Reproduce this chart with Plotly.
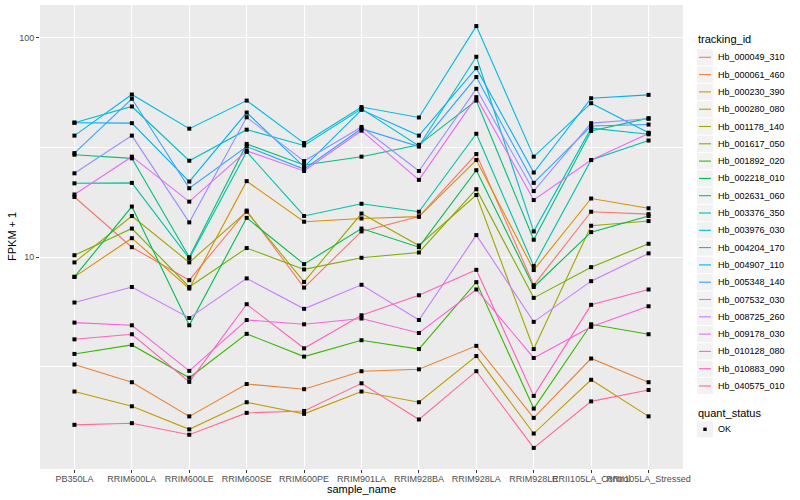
import plotly.graph_objects as go
import numpy as np

# ---------------- data (FPKM + 1) ----------------
samples = ["PB350LA", "RRIM600LA", "RRIM600LE", "RRIM600SE", "RRIM600PE",
           "RRIM901LA", "RRIM928BA", "RRIM928LA", "RRIM928LE",
           "RRII105LA_Control", "RRII105LA_Stressed"]

tracking_ids = ["Hb_000049_310", "Hb_000061_460", "Hb_000230_390", "Hb_000280_080",
                "Hb_001178_140", "Hb_001617_050", "Hb_001892_020", "Hb_002218_010",
                "Hb_002631_060", "Hb_003376_350", "Hb_003976_030", "Hb_004204_170",
                "Hb_004907_110", "Hb_005348_140", "Hb_007532_030", "Hb_008725_260",
                "Hb_009178_030", "Hb_010128_080", "Hb_010883_090", "Hb_040575_010"]

hb_000049_310 = [18.8, 11.1, 7.85, 16.3, 7.26, 13.1, 15.3, 29.5, 7.45, 16.1, 15.7]
hb_000061_460 = [3.24, 2.69, 1.88, 2.64, 2.50, 3.02, 3.08, 3.94, 1.85, 3.45, 2.69]
hb_000230_390 = [8.13, 12.2, 7.19, 22.2, 14.5, 15.0, 15.3, 27.7, 8.73, 18.5, 16.7]
hb_000280_080 = [2.44, 2.09, 1.64, 2.18, 1.93, 2.44, 2.18, 3.54, 1.57, 2.76, 1.88]
hb_001178_140 = [9.46, 15.4, 9.46, 16.1, 7.71, 15.8, 11.3, 19.2, 3.81, 13.9, 14.6]
hb_001617_050 = [10.2, 13.5, 7.31, 11.0, 8.79, 9.93, 10.5, 20.4, 6.52, 9.00, 11.5]
hb_001892_020 = [3.62, 3.98, 2.82, 4.47, 3.52, 4.18, 3.81, 7.69, 2.04, 4.94, 4.45]
hb_002218_010 = [8.13, 17.0, 4.89, 15.1, 9.29, 13.5, 11.1, 24.9, 7.31, 13.0, 15.4]
hb_002631_060 = [29.3, 28.2, 10.0, 32.8, 26.3, 28.7, 32.5, 51.7, 12.0, 37.6, 43.0]
hb_003376_350 = [21.7, 21.8, 9.86, 30.2, 15.4, 17.5, 16.1, 36.5, 9.12, 27.7, 34.0]
hb_003976_030 = [41.0, 48.6, 27.5, 38.1, 32.3, 47.4, 32.1, 81.9, 13.1, 38.7, 36.3]
hb_004204_170 = [35.8, 55.1, 38.5, 51.7, 33.1, 48.3, 43.3, 113.0, 28.7, 50.3, 36.9]
hb_004907_110 = [41.0, 40.8, 22.1, 45.6, 25.8, 46.9, 35.8, 72.7, 24.3, 53.0, 54.9]
hb_005348_140 = [29.8, 52.7, 20.6, 31.9, 25.2, 38.5, 31.9, 66.2, 21.8, 39.6, 40.2]
hb_007532_030 = [24.1, 35.8, 14.4, 43.4, 27.4, 39.2, 24.7, 58.5, 20.0, 40.8, 42.7]
hb_008725_260 = [6.21, 7.31, 5.28, 8.00, 5.81, 7.48, 5.17, 12.6, 5.07, 7.77, 10.4]
hb_009178_030 = [19.3, 28.7, 17.9, 30.5, 24.7, 37.7, 22.5, 53.6, 18.2, 27.7, 36.6]
hb_010128_080 = [5.03, 4.89, 3.03, 5.17, 4.94, 5.25, 4.51, 7.12, 3.47, 4.81, 5.97]
hb_010883_090 = [4.22, 4.45, 2.70, 6.10, 3.84, 5.43, 6.70, 8.75, 2.33, 6.06, 7.12]
hb_040575_010 = [1.72, 1.75, 1.55, 1.95, 1.99, 2.66, 1.82, 3.02, 1.35, 2.20, 2.48]

series_values = [hb_000049_310, hb_000061_460, hb_000230_390, hb_000280_080,
                 hb_001178_140, hb_001617_050, hb_001892_020, hb_002218_010,
                 hb_002631_060, hb_003376_350, hb_003976_030, hb_004204_170,
                 hb_004907_110, hb_005348_140, hb_007532_030, hb_008725_260,
                 hb_009178_030, hb_010128_080, hb_010883_090, hb_040575_010]

colors = ["#F8766D", "#EA8331", "#D89000", "#C09B00", "#A3A500", "#7CAE00",
          "#39B600", "#00BB4E", "#00BF7D", "#00C1A3", "#00BFC4", "#00BAE0",
          "#00B0F6", "#35A2FF", "#9590FF", "#C77CFF", "#E76BF3", "#FA62DB",
          "#FF62BC", "#FF6C91"]

quant_status = ["OK"]
y_ticks = [10, 100]

# ---------------- geometry helpers ----------------
W, H = 800, 500
ML, MR, MT, MB = 40, 117, 5, 31
PW, PH = W - ML - MR, H - MT - MB


def pxx(x):
    return (x - ML) / PW


def pxy(y):
    return (H - MB - y) / PH


FONT = "Liberation Sans, Arial, Helvetica, sans-serif"

fig = go.Figure()

for name, vals, col in zip(tracking_ids, series_values, colors):
    fig.add_trace(go.Scatter(x=samples, y=vals, mode="lines", name=name,
                             line=dict(color=col, width=1.1),
                             showlegend=False, hoverinfo="x+y+name"))
for name, vals in zip(tracking_ids, series_values):
    fig.add_trace(go.Scatter(x=samples, y=vals, mode="markers", name=name,
                             marker=dict(symbol="square", size=4, color="black"),
                             showlegend=False, hoverinfo="x+y+name"))

# log range with ggplot-like 5% expansion
all_logs = np.log10(np.concatenate([np.array(v) for v in series_values]))
lo, hi = all_logs.min(), all_logs.max()
pad = 0.05 * (hi - lo)
yrange = [lo - pad, hi + pad]

fig.update_layout(
    width=W, height=H,
    margin=dict(l=ML, r=MR, t=MT, b=MB, pad=0, autoexpand=False),
    plot_bgcolor="#EBEBEB", paper_bgcolor="white",
    font=dict(family=FONT, size=9, color="#4D4D4D"),
    showlegend=False,
    xaxis=dict(type="category", categoryorder="array", categoryarray=samples,
               range=[-0.6, len(samples) - 0.4],
               showgrid=True, gridcolor="white", gridwidth=1.1,
               zeroline=False, showline=False, automargin=False,
               ticks="outside", ticklen=3, tickwidth=1, tickcolor="#333333",
               ticklabelstandoff=-2,
               tickfont=dict(family=FONT, size=9, color="#4D4D4D"),
               tickangle=0, fixedrange=True),
    yaxis=dict(type="log", range=yrange, automargin=False,
               tickmode="array", tickvals=y_ticks, ticktext=[str(t) for t in y_ticks],
               showgrid=True, gridcolor="white", gridwidth=1.1,
               minor=dict(tickmode="array", tickvals=[10 ** 0.5, 10 ** 1.5],
                          showgrid=True, gridcolor="white", gridwidth=0.55, ticks=""),
               zeroline=False, showline=False,
               ticks="outside", ticklen=3, tickwidth=1, tickcolor="#333333",
               tickfont=dict(family=FONT, size=9, color="#4D4D4D"),
               fixedrange=True),
)

ann = []
shapes = []
# axis titles
ann.append(dict(text="sample_name", xref="paper", yref="paper",
                x=pxx((ML + W - MR) / 2), y=pxy(489), showarrow=False,
                font=dict(family=FONT, size=11, color="black"),
                xanchor="center", yanchor="middle"))
ann.append(dict(text="FPKM + 1", xref="paper", yref="paper",
                x=pxx(12), y=pxy((MT + H - MB) / 2), showarrow=False, textangle=-90,
                font=dict(family=FONT, size=11, color="black"),
                xanchor="center", yanchor="middle"))

# custom ggplot-like legend
lx0, lx1 = 697, 713
ann.append(dict(text="tracking_id", xref="paper", yref="paper",
                x=pxx(696), y=pxy(39), showarrow=False,
                font=dict(family=FONT, size=11, color="black"),
                xanchor="left", yanchor="middle"))
step = 17.3
for i, (name, col) in enumerate(zip(tracking_ids, colors)):
    cy = 57.3 + i * step
    shapes.append(dict(type="rect", xref="paper", yref="paper",
                       x0=pxx(lx0), x1=pxx(lx1), y0=pxy(cy - 8.1), y1=pxy(cy + 8.1),
                       fillcolor="#F2F2F2", line=dict(width=0), layer="above"))
    shapes.append(dict(type="line", xref="paper", yref="paper",
                       x0=pxx(699), x1=pxx(711), y0=pxy(cy), y1=pxy(cy),
                       line=dict(color=col, width=1.1), layer="above"))
    ann.append(dict(text=name, xref="paper", yref="paper",
                    x=pxx(716), y=pxy(cy), showarrow=False,
                    font=dict(family=FONT, size=9, color="black"),
                    xanchor="left", yanchor="middle"))

ann.append(dict(text="quant_status", xref="paper", yref="paper",
                x=pxx(696), y=pxy(412.7), showarrow=False,
                font=dict(family=FONT, size=11, color="black"),
                xanchor="left", yanchor="middle"))
for j, st in enumerate(quant_status):
    cy = 429.3 + j * step
    shapes.append(dict(type="rect", xref="paper", yref="paper",
                       x0=pxx(lx0), x1=pxx(lx1), y0=pxy(cy - 8.1), y1=pxy(cy + 8.1),
                       fillcolor="#F2F2F2", line=dict(width=0), layer="above"))
    shapes.append(dict(type="rect", xref="paper", yref="paper",
                       x0=pxx(703.3), x1=pxx(706.7), y0=pxy(cy - 1.7), y1=pxy(cy + 1.7),
                       fillcolor="black", line=dict(width=0), layer="above"))
    ann.append(dict(text=st, xref="paper", yref="paper",
                    x=pxx(716), y=pxy(cy), showarrow=False,
                    font=dict(family=FONT, size=9, color="black"),
                    xanchor="left", yanchor="middle"))

fig.update_layout(annotations=ann, shapes=shapes)

fig.write_html("out.html", config={"displayModeBar": False},
               post_script="document.body.style.margin='0';document.body.style.padding='0';")
